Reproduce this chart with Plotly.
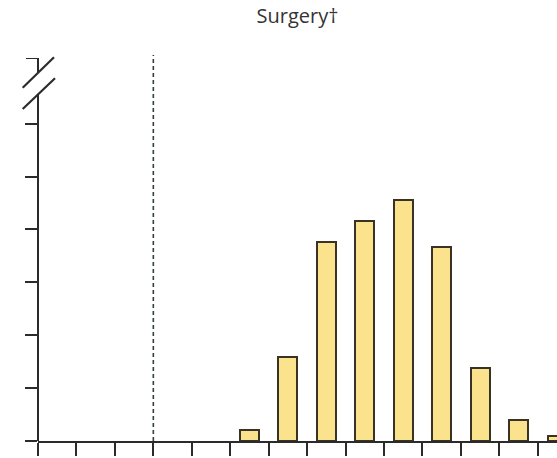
import plotly.graph_objects as go

# Score bins (left edge of each bin) and share of patients in each bin, %
bins = [5, 6, 7, 8, 9, 10, 11, 12, 13]
share = [1.0, 7.9, 18.8, 20.8, 22.8, 18.3, 6.9, 2.0, 0.5]
x_ticks = list(range(0, 14))
y_ticks = [0, 5, 10, 15, 20, 25, 30]
y_break_top = 36.2          # value of the tick above the axis break
threshold = 3               # dashed reference line

W, H = 557, 458
ML, MR, MT, MB = 38, 0, 58, 17
AX = "#2b2b2b"


def px_x(p):
    return (p - ML) / (W - ML - MR)


def px_y(p):
    return (H - MB - p) / (H - MT - MB)


fig = go.Figure()
fig.add_trace(go.Bar(
    x=[b + 0.5 for b in bins],
    y=share,
    width=0.49,
    marker=dict(color="#fbe38e", line=dict(color="#3a3325", width=2)),
    hoverinfo="skip",
))

shapes = [
    # dashed threshold
    dict(type="line", xref="x", yref="paper", x0=threshold, x1=threshold,
         y0=0, y1=px_y(55), line=dict(color="#33403f", width=1.6, dash="4px,3px")),
    # y axis, broken in two segments
    dict(type="line", xref="paper", yref="paper", x0=0, x1=0,
         y0=0, y1=px_y(94.5), line=dict(color=AX, width=2)),
    dict(type="line", xref="paper", yref="paper", x0=0, x1=0,
         y0=px_y(72.8), y1=1, line=dict(color=AX, width=2)),
    # tick above the break
    dict(type="line", xref="paper", yref="y", x0=px_x(26), x1=0,
         y0=y_break_top, y1=y_break_top, line=dict(color=AX, width=2)),
    # break marks
    dict(type="line", xref="paper", yref="paper", x0=px_x(22.7), x1=px_x(54),
         y0=px_y(87.7), y1=px_y(57.3), line=dict(color=AX, width=2.2)),
    dict(type="line", xref="paper", yref="paper", x0=px_x(22.7), x1=px_x(55),
         y0=px_y(109), y1=px_y(78.3), line=dict(color=AX, width=2.2)),
]

fig.update_layout(
    width=W, height=H,
    margin=dict(l=ML, r=MR, t=MT, b=MB),
    paper_bgcolor="white", plot_bgcolor="white",
    showlegend=False,
    bargap=0,
    shapes=shapes,
    title=dict(text="Surgery†", x=0.5, xref="paper", xanchor="center",
               y=1 - 16 / H, yref="container", yanchor="middle",
               font=dict(family="Open Sans", size=20, color="#333333")),
    xaxis=dict(range=[0, 13.5], tickvals=x_ticks, showticklabels=False,
               ticks="outside", ticklen=13, tickwidth=2, tickcolor=AX,
               showline=True, linewidth=2, linecolor=AX,
               showgrid=False, zeroline=False, fixedrange=True),
    yaxis=dict(range=[0, y_break_top], tickvals=y_ticks,
               showticklabels=False, ticks="outside", ticklen=12, tickwidth=2,
               tickcolor=AX, showline=False, showgrid=False, zeroline=False,
               fixedrange=True),
)

fig.write_html("out.html", config={"displayModeBar": False})
